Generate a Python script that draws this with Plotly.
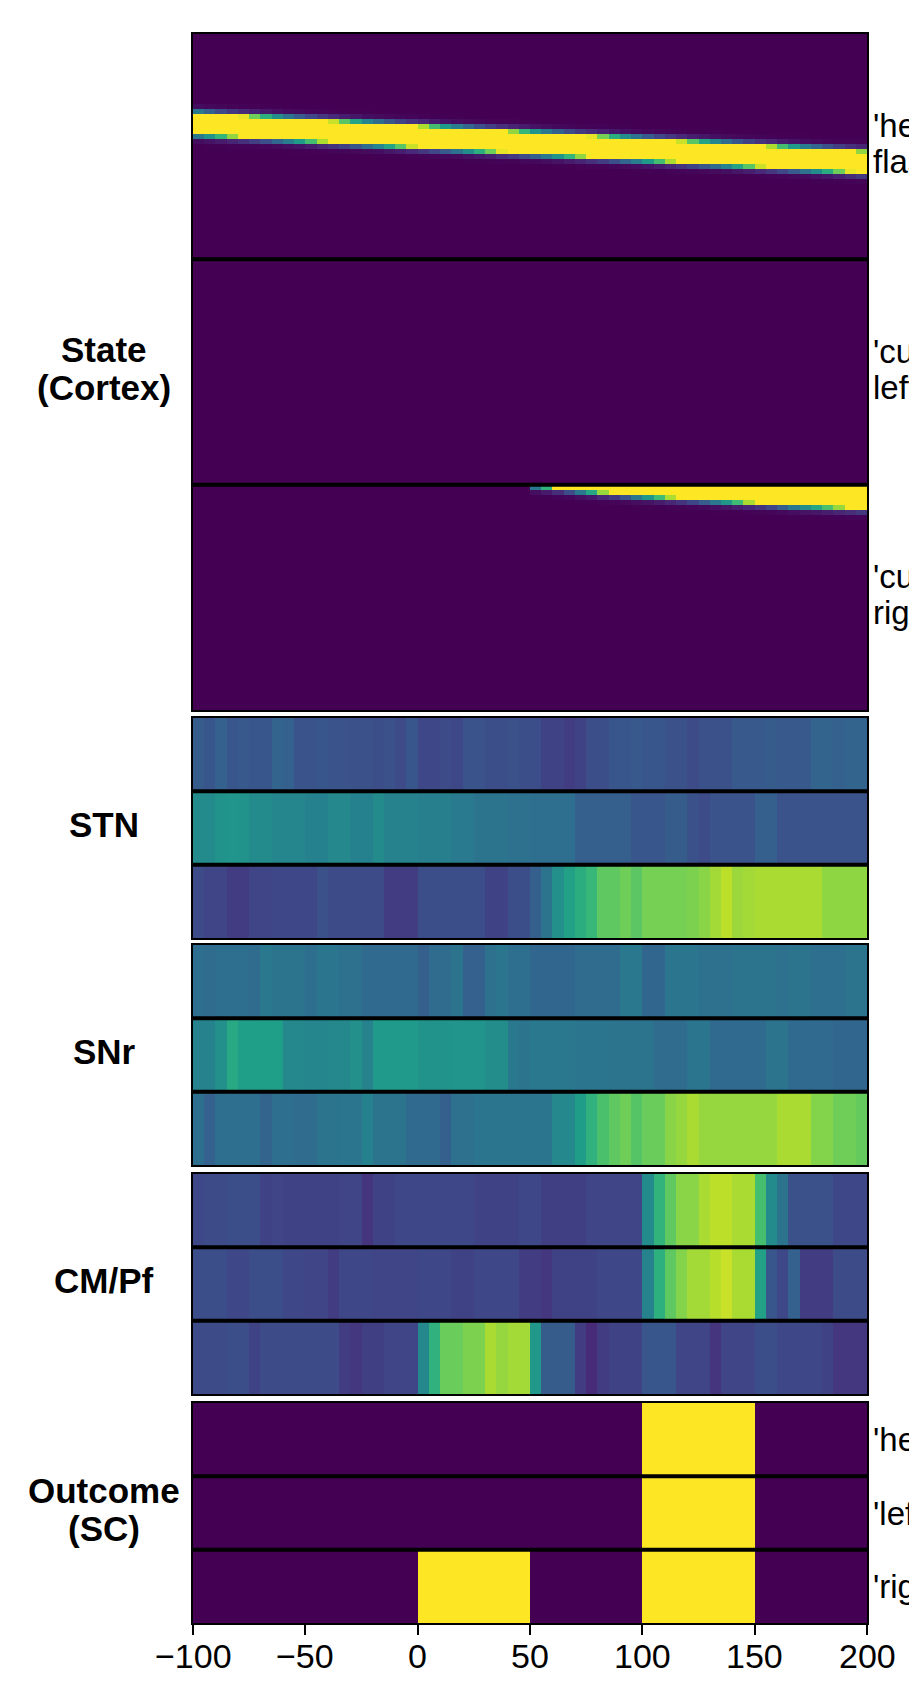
import math
import plotly.graph_objects as go

# ---------------- data ----------------
time_edges = list(range(-100, 201, 5))
time_centers = [t + 2.5 for t in time_edges[:-1]]
x_ticks = [-100, -50, 0, 50, 100, 150, 200]
x_tick_text = ["\u2212100", "\u221250", "0", "50", "100", "150", "200"]

panel_labels = [["State", "(Cortex)"], ["STN"], ["SNr"], ["CM/Pf"], ["Outcome", "(SC)"]]
state_labels = [["'head", "flash'"], ["'cue", "left'"], ["'cue", "right'"]]
outcome_labels = ["'head'", "'left'", "'right'"]

rows_per_state = 45

# centre (in rows) of the active band in each cortical state block, per time bin
state1_center = [18.00, 18.13, 18.26, 18.39, 18.52, 18.65, 18.77, 18.90, 19.03, 19.16,
                 19.29, 19.42, 19.55, 19.68, 19.81, 19.94, 20.06, 20.19, 20.32, 20.45,
                 20.58, 20.71, 20.84, 20.97, 21.10, 21.23, 21.35, 21.48, 21.61, 21.74,
                 21.87, 22.00, 22.13, 22.26, 22.39, 22.52, 22.64, 22.77, 22.90, 23.03,
                 23.16, 23.29, 23.42, 23.55, 23.68, 23.81, 23.93, 24.06, 24.19, 24.32,
                 24.45, 24.58, 24.71, 24.84, 24.97, 25.10, 25.22, 25.35, 25.48, 25.61]
state2_center = [None] * 60
state3_center = [None] * 30 + [
    -2.20, -1.95, -1.70, -1.45, -1.20, -1.00, -0.80, -0.60, -0.40, -0.20,
    -0.06, 0.08, 0.22, 0.36, 0.50, 0.65, 0.80, 0.94, 1.08, 1.22,
    1.36, 1.50, 1.65, 1.80, 1.90, 2.00, 2.10, 2.20, 2.30, 2.40]
state_halfwidth = [2.0, 2.0, 2.2]

stn_a = [0.29, 0.27, 0.31, 0.27, 0.28, 0.27, 0.27, 0.32, 0.31, 0.26,
         0.26, 0.27, 0.26, 0.26, 0.25, 0.25, 0.24, 0.25, 0.23, 0.27,
         0.22, 0.22, 0.23, 0.22, 0.26, 0.26, 0.24, 0.24, 0.25, 0.24,
         0.24, 0.20, 0.20, 0.18, 0.20, 0.24, 0.24, 0.27, 0.27, 0.28,
         0.27, 0.27, 0.25, 0.25, 0.23, 0.25, 0.25, 0.25, 0.28, 0.28,
         0.28, 0.29, 0.28, 0.28, 0.28, 0.32, 0.32, 0.31, 0.32, 0.32]
stn_b = [0.48, 0.48, 0.51, 0.52, 0.51, 0.48, 0.48, 0.46, 0.46, 0.46,
         0.44, 0.44, 0.47, 0.47, 0.44, 0.44, 0.48, 0.45, 0.45, 0.45,
         0.43, 0.43, 0.43, 0.41, 0.41, 0.38, 0.38, 0.38, 0.37, 0.37,
         0.36, 0.36, 0.36, 0.36, 0.30, 0.30, 0.30, 0.30, 0.30, 0.27,
         0.27, 0.27, 0.29, 0.29, 0.25, 0.23, 0.26, 0.26, 0.26, 0.26,
         0.30, 0.30, 0.26, 0.26, 0.26, 0.26, 0.26, 0.26, 0.26, 0.26]
stn_c = [0.23, 0.21, 0.21, 0.18, 0.18, 0.21, 0.21, 0.22, 0.22, 0.22,
         0.22, 0.25, 0.23, 0.23, 0.23, 0.23, 0.23, 0.18, 0.18, 0.18,
         0.24, 0.24, 0.24, 0.24, 0.24, 0.24, 0.20, 0.20, 0.24, 0.24,
         0.30, 0.38, 0.50, 0.57, 0.62, 0.67, 0.75, 0.75, 0.78, 0.74,
         0.79, 0.79, 0.79, 0.79, 0.80, 0.82, 0.86, 0.90, 0.85, 0.86,
         0.87, 0.87, 0.87, 0.87, 0.87, 0.87, 0.83, 0.83, 0.83, 0.83]

snr_a = [0.36, 0.35, 0.36, 0.36, 0.36, 0.35, 0.40, 0.38, 0.38, 0.38,
         0.36, 0.39, 0.39, 0.37, 0.37, 0.34, 0.34, 0.34, 0.34, 0.34,
         0.30, 0.35, 0.35, 0.38, 0.31, 0.31, 0.37, 0.39, 0.36, 0.36,
         0.33, 0.33, 0.33, 0.33, 0.35, 0.35, 0.35, 0.35, 0.40, 0.40,
         0.33, 0.33, 0.39, 0.39, 0.39, 0.37, 0.37, 0.37, 0.38, 0.38,
         0.38, 0.38, 0.37, 0.38, 0.38, 0.36, 0.36, 0.36, 0.38, 0.38]
snr_b = [0.45, 0.45, 0.50, 0.60, 0.56, 0.56, 0.56, 0.56, 0.47, 0.47,
         0.46, 0.46, 0.47, 0.47, 0.50, 0.45, 0.54, 0.54, 0.54, 0.54,
         0.51, 0.51, 0.51, 0.52, 0.52, 0.52, 0.49, 0.49, 0.40, 0.38,
         0.40, 0.40, 0.40, 0.40, 0.39, 0.39, 0.39, 0.38, 0.38, 0.38,
         0.38, 0.35, 0.35, 0.35, 0.39, 0.39, 0.34, 0.34, 0.34, 0.34,
         0.34, 0.38, 0.38, 0.34, 0.34, 0.34, 0.34, 0.33, 0.33, 0.33]
snr_c = [0.36, 0.31, 0.36, 0.36, 0.36, 0.36, 0.32, 0.36, 0.36, 0.35,
         0.35, 0.38, 0.38, 0.39, 0.39, 0.44, 0.38, 0.38, 0.38, 0.34,
         0.34, 0.34, 0.30, 0.37, 0.37, 0.39, 0.39, 0.39, 0.39, 0.39,
         0.39, 0.39, 0.47, 0.47, 0.55, 0.64, 0.71, 0.75, 0.78, 0.73,
         0.77, 0.77, 0.82, 0.84, 0.87, 0.84, 0.84, 0.84, 0.84, 0.84,
         0.84, 0.84, 0.87, 0.87, 0.87, 0.81, 0.81, 0.78, 0.78, 0.76]

cm_a = [0.22, 0.23, 0.23, 0.24, 0.24, 0.24, 0.20, 0.21, 0.20, 0.20,
        0.20, 0.20, 0.20, 0.21, 0.21, 0.15, 0.20, 0.20, 0.22, 0.22,
        0.22, 0.22, 0.22, 0.22, 0.22, 0.20, 0.20, 0.20, 0.20, 0.22,
        0.22, 0.19, 0.19, 0.19, 0.19, 0.21, 0.21, 0.21, 0.21, 0.21,
        0.48, 0.65, 0.75, 0.82, 0.82, 0.87, 0.90, 0.90, 0.87, 0.87,
        0.70, 0.48, 0.38, 0.25, 0.25, 0.25, 0.25, 0.22, 0.22, 0.22]
cm_b = [0.24, 0.24, 0.24, 0.22, 0.22, 0.24, 0.24, 0.24, 0.22, 0.22,
        0.21, 0.21, 0.18, 0.22, 0.22, 0.22, 0.21, 0.21, 0.21, 0.21,
        0.22, 0.22, 0.22, 0.20, 0.20, 0.22, 0.22, 0.22, 0.22, 0.18,
        0.18, 0.16, 0.20, 0.20, 0.20, 0.20, 0.22, 0.22, 0.22, 0.22,
        0.45, 0.63, 0.75, 0.81, 0.86, 0.86, 0.89, 0.92, 0.87, 0.87,
        0.57, 0.27, 0.22, 0.31, 0.18, 0.18, 0.18, 0.23, 0.23, 0.23]
cm_c = [0.23, 0.23, 0.23, 0.24, 0.24, 0.20, 0.23, 0.23, 0.23, 0.23,
        0.23, 0.23, 0.23, 0.18, 0.16, 0.19, 0.19, 0.21, 0.21, 0.21,
        0.47, 0.64, 0.77, 0.77, 0.80, 0.80, 0.87, 0.84, 0.86, 0.86,
        0.53, 0.29, 0.29, 0.29, 0.18, 0.12, 0.18, 0.20, 0.20, 0.20,
        0.27, 0.27, 0.27, 0.21, 0.21, 0.21, 0.15, 0.21, 0.21, 0.21,
        0.24, 0.24, 0.22, 0.22, 0.22, 0.22, 0.20, 0.16, 0.16, 0.16]

outcome_a = [0] * 40 + [1] * 10 + [0] * 10
outcome_b = [0] * 40 + [1] * 10 + [0] * 10
outcome_c = [0] * 20 + [1] * 10 + [0] * 10 + [1] * 10 + [0] * 10

# ---------------- build cortical state matrix ----------------
def band_rows(centers, h):
    k = ((h + 0.5) ** 2 - h ** 2) / math.log(2.5)
    amp = math.exp(h ** 2 / k)
    rows = [[0.0] * len(centers) for _ in range(rows_per_state)]
    for c, ctr in enumerate(centers):
        if ctr is None:
            continue
        for r in range(rows_per_state):
            d = (r + 0.5) - ctr
            rows[r][c] = min(1.0, amp * math.exp(-d * d / k))
    return rows

z_state = []
for cen, h in zip([state1_center, state2_center, state3_center], state_halfwidth):
    z_state += band_rows(cen, h)

panels = [
    z_state,
    [stn_a, stn_b, stn_c],
    [snr_a, snr_b, snr_c],
    [cm_a, cm_b, cm_c],
    [outcome_a, outcome_b, outcome_c],
]

# ---------------- figure ----------------
W, H = 909, 1682
PL, PR, PT, PB = 193, 867, 34, 1623          # plot area in page pixels
ML, MR, MT, MB = PL, W - PR, PT, H - PB
plot_h = H - MT - MB
panel_px = [(34, 710), (718, 938), (945, 1165), (1174, 1394), (1403, 1623)]

def dom(top, bot):
    return [(H - MB - bot) / plot_h, (H - MB - top) / plot_h]

FONT = "Liberation Sans, Arial, sans-serif"
fig = go.Figure()
layout = dict(
    width=W, height=H,
    margin=dict(l=ML, r=MR, t=MT, b=MB, autoexpand=False),
    paper_bgcolor="white", plot_bgcolor="white",
    font=dict(family=FONT, size=34, color="black"),
    showlegend=False,
)
shapes = []
annotations = []

for i, (z, (top, bot)) in enumerate(zip(panels, panel_px)):
    n = i + 1
    xa = "x" if n == 1 else f"x{n}"
    ya = "y" if n == 1 else f"y{n}"
    nrows = len(z)
    fig.add_trace(go.Heatmap(
        z=z, x=time_centers, y=list(range(nrows)),
        colorscale="Viridis", zmin=0, zmax=1, showscale=False,
        xaxis=xa, yaxis=ya, hoverinfo="skip"))
    is_bottom = (n == len(panels))
    layout["xaxis" if n == 1 else f"xaxis{n}"] = dict(
        domain=[0, 1], anchor=ya, range=[-100, 200], automargin=False,
        showgrid=False, zeroline=False,
        showline=True, mirror=True, linecolor="black", linewidth=2,
        ticks="outside" if is_bottom else "", ticklen=10, tickwidth=2, tickcolor="black",
        tickvals=x_ticks if is_bottom else [], showticklabels=False,
    )
    layout["yaxis" if n == 1 else f"yaxis{n}"] = dict(
        domain=dom(top, bot), anchor=xa, range=[nrows - 0.5, -0.5], automargin=False,
        showgrid=False, zeroline=False, showticklabels=False, ticks="",
        showline=True, mirror=True, linecolor="black", linewidth=2,
    )
    # separators between the three rows / state blocks
    block = nrows // 3
    for b in (1, 2):
        yb = b * block - 0.5
        shapes.append(dict(type="line", xref=f"{xa} domain", yref=ya,
                           x0=0, x1=1, y0=yb, y1=yb,
                           line=dict(color="black", width=4)))
    # left panel label
    d = dom(top, bot)
    yc = (d[0] + d[1]) / 2
    lab = panel_labels[i]
    shifts = [4] if len(lab) == 1 else [23, -15]
    for text, s in zip(lab, shifts):
        annotations.append(dict(text=f"<b>{text}</b>", xref="paper", yref="paper",
                                x=(104 - PL) / (PR - PL), y=yc, yshift=s,
                                xanchor="center", yanchor="middle", showarrow=False,
                                font=dict(size=35, family=FONT, color="black")))

# bottom tick labels, placed at the tick values of the time axis
for tv, tt in zip(x_ticks, x_tick_text):
    annotations.append(dict(text=tt, xref="x5", yref="paper", x=tv, y=0, yshift=-33,
                            xanchor="center", yanchor="middle", showarrow=False,
                            font=dict(size=34, family=FONT, color="black")))

# right-hand labels (cut by the page edge as in the original)
xr = 1 + 4 / (PR - PL)
for b, lines in enumerate(state_labels):
    yc = b * rows_per_state + (rows_per_state - 1) / 2
    for text, s in zip(lines, [21, -15]):
        annotations.append(dict(text=text, xref="paper", yref="y", x=xr, y=yc, yshift=s,
                                xanchor="left", yanchor="middle", showarrow=False,
                                font=dict(size=33, family=FONT, color="black")))
for r, text in enumerate(outcome_labels):
    annotations.append(dict(text=text, xref="paper", yref="y5", x=xr, y=r,
                            xanchor="left", yanchor="middle", showarrow=False,
                            font=dict(size=33, family=FONT, color="black")))

layout["shapes"] = shapes
layout["annotations"] = annotations
fig.update_layout(**layout)
fig.write_html(
    "out.html",
    config={"displayModeBar": False},
    post_script=(
        "document.documentElement.style.overflow='hidden';"
        "document.body.style.margin='0';"
        "document.body.style.height='1682px';"
        "document.body.style.overflow='hidden';"
    ),
)
